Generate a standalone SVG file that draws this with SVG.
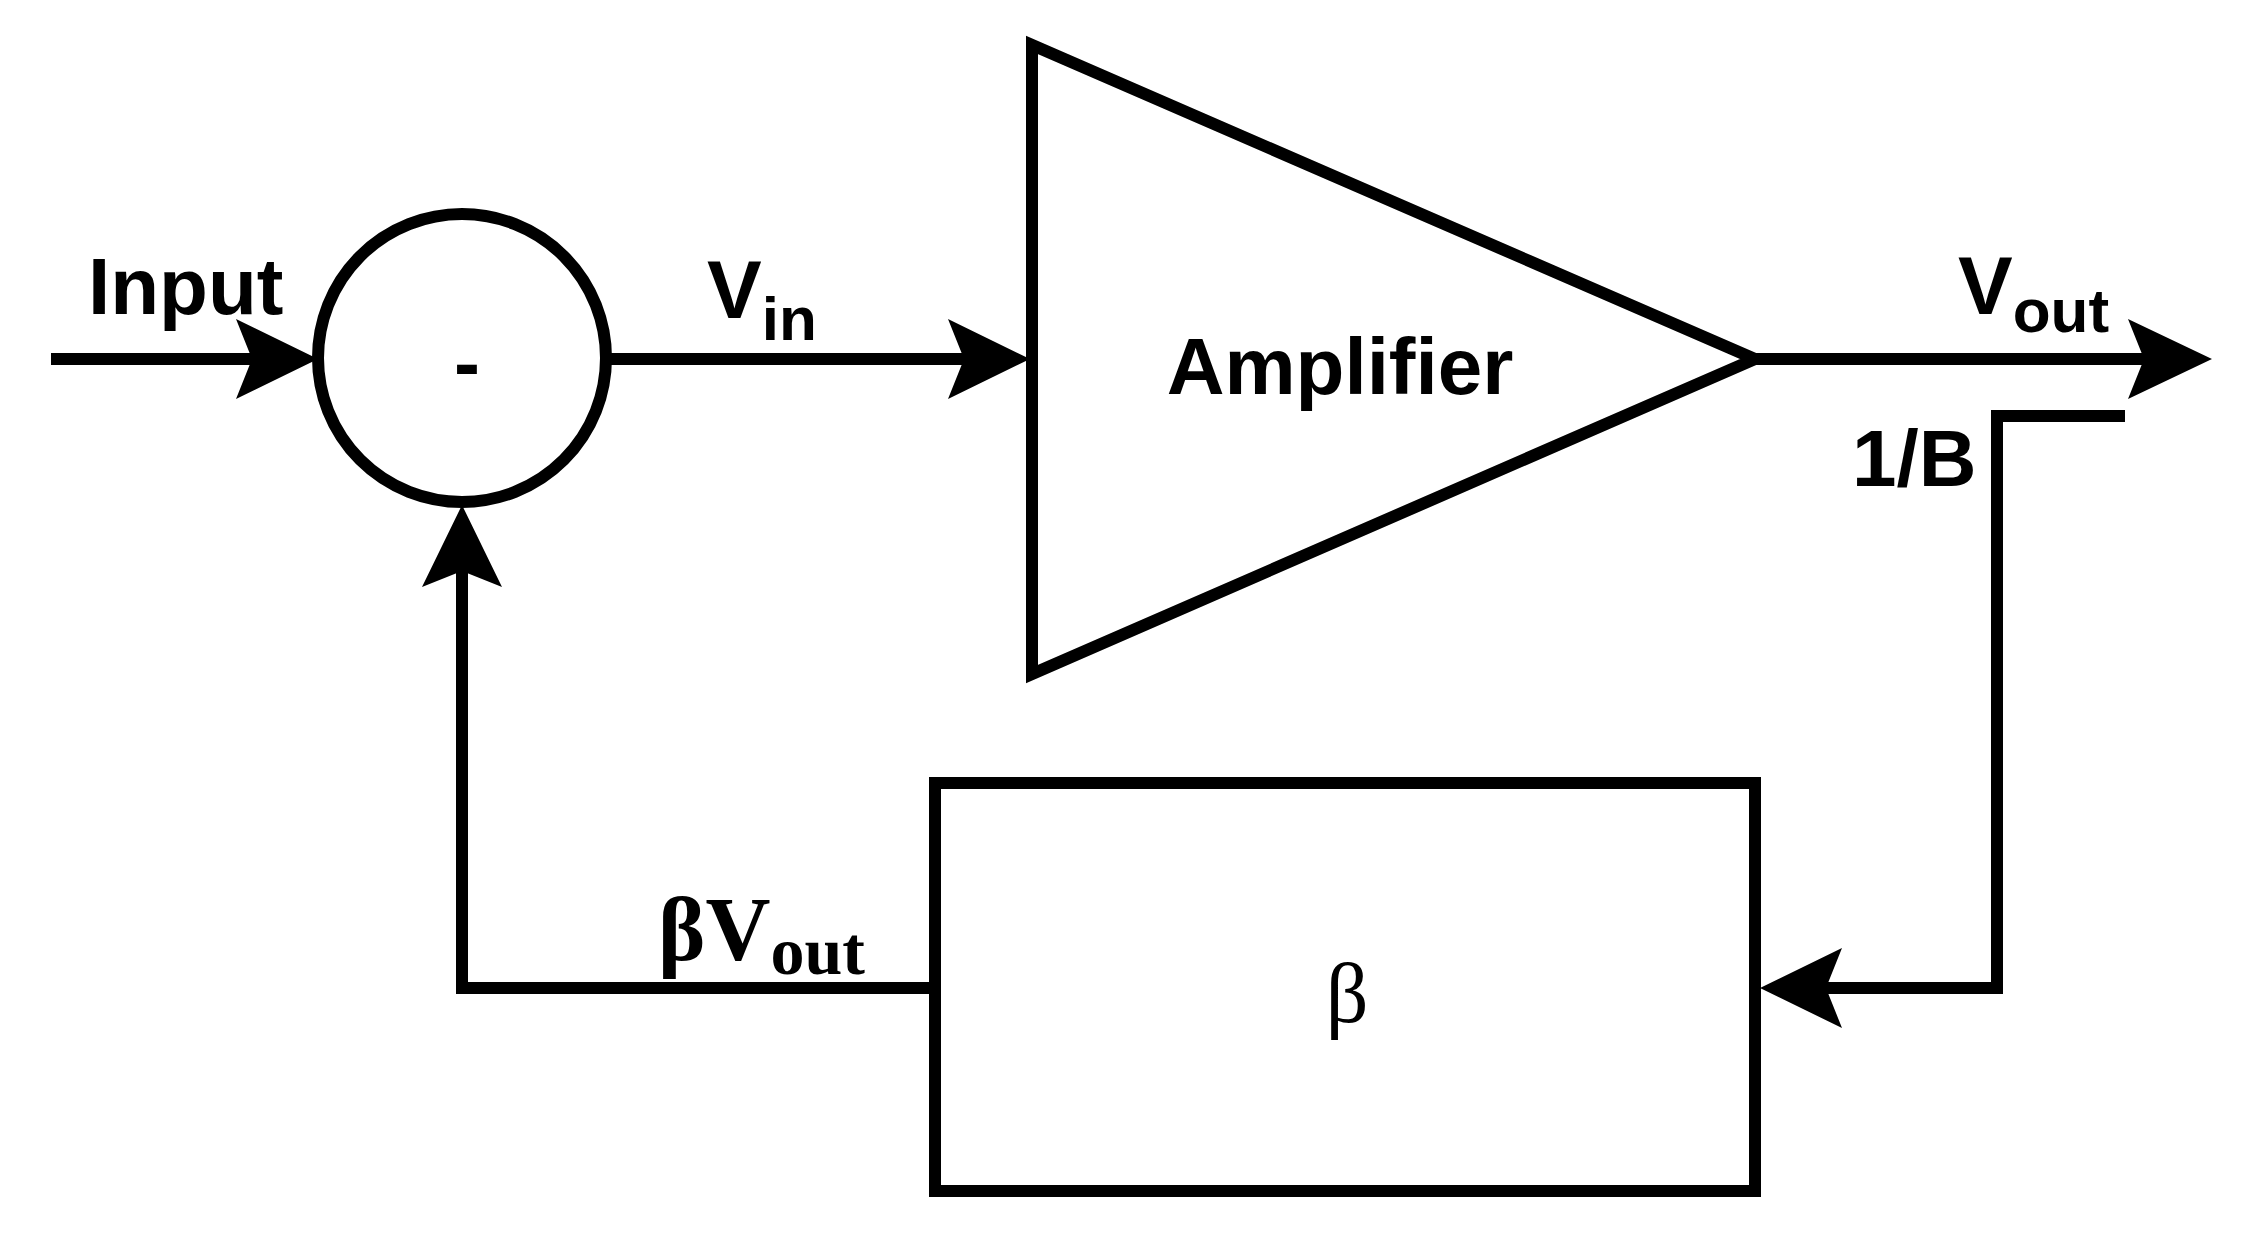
<svg xmlns="http://www.w3.org/2000/svg" width="2243" height="1257" viewBox="0 0 2243 1257">
<style>
.s{fill:none;stroke:#000;stroke-width:12}
.ah{fill:#000}
.t{font-family:"Liberation Sans",Arial,sans-serif;font-weight:bold;fill:#000}
.g{font-family:"Liberation Serif","Times New Roman",serif;fill:#000}
</style>
<rect width="2243" height="1257" fill="#fff"/>
<g id="connectors">
<path class="s" d="M51 359H290"/>
<path class="ah" d="M318 359L236 319L252 359L236 399Z"/>
<path class="s" d="M607 359H1000"/>
<path class="ah" d="M1030 359L948 319L964 359L948 399Z"/>
<path class="s" d="M1755 359H2180"/>
<path class="ah" d="M2212 359L2128 319L2144 359L2128 399Z"/>
<path class="s" d="M2125 416H1997V988H1790"/>
<path class="ah" d="M1760 988L1842 948L1826 988L1842 1028Z"/>
<path class="s" d="M935 988H462V535"/>
<path class="ah" d="M462 505L422 587L462 571L502 587Z"/>
</g>
<g id="sum">
<circle class="s" cx="462" cy="358" r="144"/>
<text class="t" x="467" y="390" font-size="78" text-anchor="middle">-</text>
</g>
<g id="amplifier">
<path class="s" d="M1032 45V674L1755 359Z"/>
<text class="t" x="1340" y="394" font-size="80" text-anchor="middle">Amplifier</text>
</g>
<g id="beta">
<rect class="s" x="935" y="783" width="820" height="408"/>
<text class="g" x="1347" y="1022" font-size="84" text-anchor="middle">β</text>
</g>
<g id="labels">
<text class="t" x="88" y="314" font-size="80">Input</text>
<text class="t" x="707" y="318" font-size="82">V<tspan font-size="62" dy="22">in</tspan></text>
<text class="t" x="1958" y="314" font-size="82">V<tspan font-size="62" dy="18">out</tspan></text>
<text class="t" x="1852" y="486" font-size="80">1/B</text>
<text class="g" x="658" y="960" font-size="90" font-weight="bold">βV<tspan font-size="68" dy="14">out</tspan></text>
</g>
</svg>
